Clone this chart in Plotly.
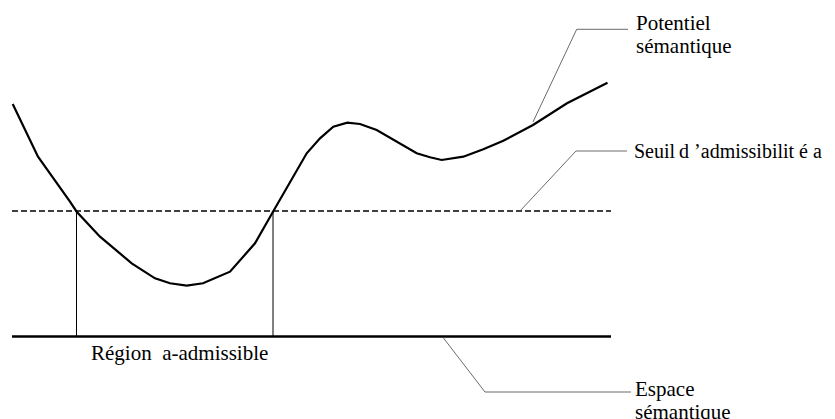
import plotly.graph_objects as go

# Potential curve over the semantic space (diagram units, y grows downward)
curve_x = [12.7, 38, 70, 76.7, 100, 131.7, 155, 170, 186.7, 203, 230, 255, 273,
           306.7, 320, 333.3, 347.3, 360, 376.7, 396.7, 416.7, 430, 441.7, 463.3,
           483.3, 503.3, 520, 533, 567, 607.5]
curve_y = [104, 156.7, 201.7, 211.7, 236.7, 263.3, 278.3, 283.3, 285.7, 283.3, 271.7, 243.3, 211.7,
           153.3, 138.3, 126.7, 122.7, 124, 130, 141.7, 153.3, 157.3, 160, 156.7,
           149.3, 140.7, 131.7, 125, 103.3, 82.7]

space_x = [12, 611]
threshold_y = 211
space_y = 336.5
region_bounds = [76.5, 273]

# Leader lines: (x points, y points)
leader_potentiel = ([533, 576.7, 628], [122, 29.3, 29.3])
leader_seuil = ([520, 576, 627], [211, 151, 151])
leader_espace = ([442.7, 485, 631], [337, 392, 392])

# Labels: (text, x, y, size)
labels = [
    ("Potentiel", 634, 23, 21),
    ("sémantique", 634, 46, 21),
    ("Seuil\u2009d \u2019admissibilit é a", 632, 151, 20),
    ("Espace", 633, 389, 21),
    ("sémantique", 633, 412, 21),
]
label_region = ("Région  a-admissible", 179, 353, 21)

# page body has an 8px default margin: figure covers the window from (8, 8)
OFFSET = 8
W, H = 835, 419

fig = go.Figure()

fig.add_trace(go.Scatter(x=space_x, y=[threshold_y, threshold_y], mode="lines",
                         line=dict(color="black", width=1.7, dash="6px,3px"), hoverinfo="skip"))
fig.add_trace(go.Scatter(x=space_x, y=[space_y, space_y], mode="lines",
                         line=dict(color="black", width=2.6), hoverinfo="skip"))
for xb in region_bounds:
    fig.add_trace(go.Scatter(x=[xb, xb], y=[threshold_y, space_y], mode="lines",
                             line=dict(color="black", width=1), hoverinfo="skip"))
for lx, ly in (leader_potentiel, leader_seuil, leader_espace):
    fig.add_trace(go.Scatter(x=lx, y=ly, mode="lines",
                             line=dict(color="#444", width=0.8), hoverinfo="skip"))
fig.add_trace(go.Scatter(x=curve_x, y=curve_y, mode="lines",
                         line=dict(color="black", width=2.2), hoverinfo="skip"))

family = "Liberation Serif, Times New Roman, serif"
for txt, lx, ly, sz in labels:
    fig.add_annotation(x=lx, y=ly, text=txt, showarrow=False, xanchor="left",
                       yanchor="middle", font=dict(family=family, size=sz, color="black"))
fig.add_annotation(x=label_region[1], y=label_region[2], text=label_region[0], showarrow=False,
                   xanchor="center", yanchor="middle",
                   font=dict(family=family, size=label_region[3], color="black"))

fig.update_layout(width=W - OFFSET, height=H - OFFSET, margin=dict(l=0, r=0, t=0, b=0),
                  paper_bgcolor="white", plot_bgcolor="white", showlegend=False)
fig.update_xaxes(range=[OFFSET, W], visible=False, fixedrange=True)
fig.update_yaxes(range=[H, OFFSET], visible=False, fixedrange=True)

fig.write_html("out.html", config={"displayModeBar": False})
